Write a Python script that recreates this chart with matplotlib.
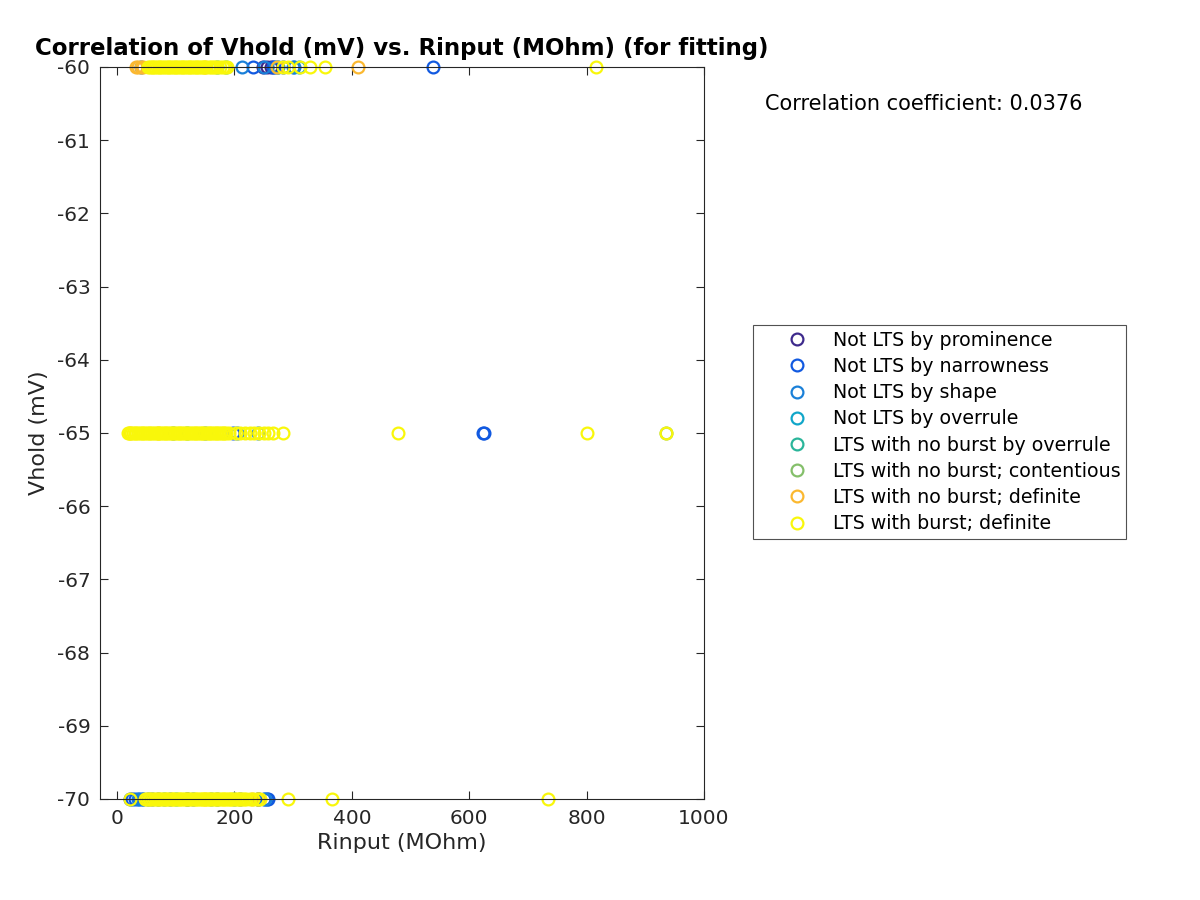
import matplotlib
matplotlib.use("Agg")
import matplotlib.pyplot as plt
from matplotlib.legend_handler import HandlerLine2D

plt.rcParams["axes.unicode_minus"] = False
plt.rcParams["font.family"] = ["DejaVu Sans"]

labels = ["Not LTS by prominence", "Not LTS by narrowness", "Not LTS by shape",
          "Not LTS by overrule", "LTS with no burst by overrule",
          "LTS with no burst; contentious", "LTS with no burst; definite",
          "LTS with burst; definite"]
colors = ["#3e2a8c", "#1159e0", "#1a80d8", "#10a6c9", "#2ab59a",
          "#84bf6a", "#fbb830", "#f9f70a"]

# Rinput values (MOhm) per category at each Vhold level (mV)
vhold_levels = [-60, -65, -70]
rin_prominence = {-60: [248, 256, 262], -65: [], -70: [120]}
rin_narrowness = {-60: [232, 265, 268, 282, 538],
                  -65: [198, 623, 625],
                  -70: [22, 26, 30, 38, 45, 52, 60, 70, 90, 130, 170, 210, 240, 250, 255, 258]}
rin_shape = {-60: [41, 213, 250, 272, 300, 302],
             -65: [95, 150, 205, 240],
             -70: [35, 42, 80, 120, 160, 200, 240, 252]}
rin_overrule = {-60: [185, 275, 310], -65: [120], -70: [100]}
rin_lts_overrule = {-60: [170], -65: [], -70: []}
rin_contentious = {-60: [], -65: [935], -70: []}
rin_nb_definite = {-60: [32, 36, 40, 44, 150, 272, 410],
                   -65: [22, 70], -70: [150, 230, 240]}
rin_burst = {
    -60: [53, 56, 59, 62, 65, 68, 71, 74, 77, 80, 83, 86, 89, 92, 95, 98, 101, 104,
          107, 110, 113, 116, 119, 122, 125, 128, 131, 134, 137, 140, 143, 146,
          149, 152, 156, 160, 163, 167, 171, 175, 180, 184, 188, 282, 292,
          312, 329, 355, 816],
    -65: [18, 21, 24, 27, 30, 33, 36, 39, 42, 45, 48, 51, 54, 57, 60, 63, 66, 69,
          72, 75, 78, 81, 84, 87, 90, 93, 96, 99, 102, 105, 108, 111, 114, 117,
          120, 123, 126, 129, 132, 135, 138, 141, 144, 147, 150, 153, 156, 159,
          162, 165, 168, 171, 174, 177, 180, 183, 186, 190, 203, 210, 218, 226,
          234, 242, 250, 258, 265, 282, 478, 800, 935],
    -70: [22, 48, 51, 54, 57, 60, 63, 66, 69, 72, 75, 78, 81, 84, 87, 90, 93, 96,
          99, 102, 105, 108, 111, 114, 117, 120, 123, 126, 129, 132, 135, 138,
          141, 144, 147, 150, 153, 156, 159, 162, 165, 168, 171, 174, 177, 180,
          183, 186, 189, 192, 195, 198, 201, 204, 207, 210, 213, 216, 220, 226,
          232, 238, 244, 292, 367, 734],
}
series = [rin_prominence, rin_narrowness, rin_shape, rin_overrule,
          rin_lts_overrule, rin_contentious, rin_nb_definite, rin_burst]

fig = plt.figure(figsize=(12, 9), dpi=100)
ax = fig.add_axes([100/1200, 1 - 799/900, 604/1200, 732/900])

handles = []
for lab, col, d in zip(labels, colors, series):
    xs, ys = [], []
    for v in vhold_levels:
        xs += d[v]
        ys += [v] * len(d[v])
    h, = ax.plot(xs, ys, linestyle="none", marker="o", markersize=8.5,
                 markerfacecolor="none", markeredgecolor=col, markeredgewidth=1.6,
                 label=lab, clip_on=False)
    handles.append(h)

ax.set_xlim(-29, 1000)
ax.set_ylim(-70, -60)
ax.set_xticks([0, 200, 400, 600, 800, 1000])
ax.set_yticks(list(range(-70, -59)))
ax.tick_params(direction="in", top=True, right=True, length=6, width=0.8,
               labelsize=14.5, colors="#262626", pad=7)
for s in ax.spines.values():
    s.set_color("#262626")
    s.set_linewidth(0.8)
ax.set_xlabel("Rinput (MOhm)", fontsize=16, color="#262626", labelpad=4)
ax.set_ylabel("Vhold (mV)", fontsize=16, color="#262626", labelpad=6)
ax.set_title("Correlation of Vhold (mV) vs. Rinput (MOhm) (for fitting)",
             fontsize=16.5, fontweight="bold", pad=9)

fig.text(765/1200, 1 - 104/900, "Correlation coefficient: 0.0376",
         fontsize=15, va="center", ha="left")

leg = fig.legend(handles=handles, labels=labels, loc="upper left",
                 bbox_to_anchor=(753/1200, 1 - 325/900),
                 borderaxespad=0, fontsize=13.7, frameon=True, fancybox=False,
                 edgecolor="#262626", handletextpad=0.9, borderpad=0.3,
                 labelspacing=0.38, handlelength=3.0,
                 handler_map={h: HandlerLine2D(xpad=1.03) for h in handles})
leg.get_frame().set_linewidth(0.8)

fig.savefig("out.png", dpi=100)
